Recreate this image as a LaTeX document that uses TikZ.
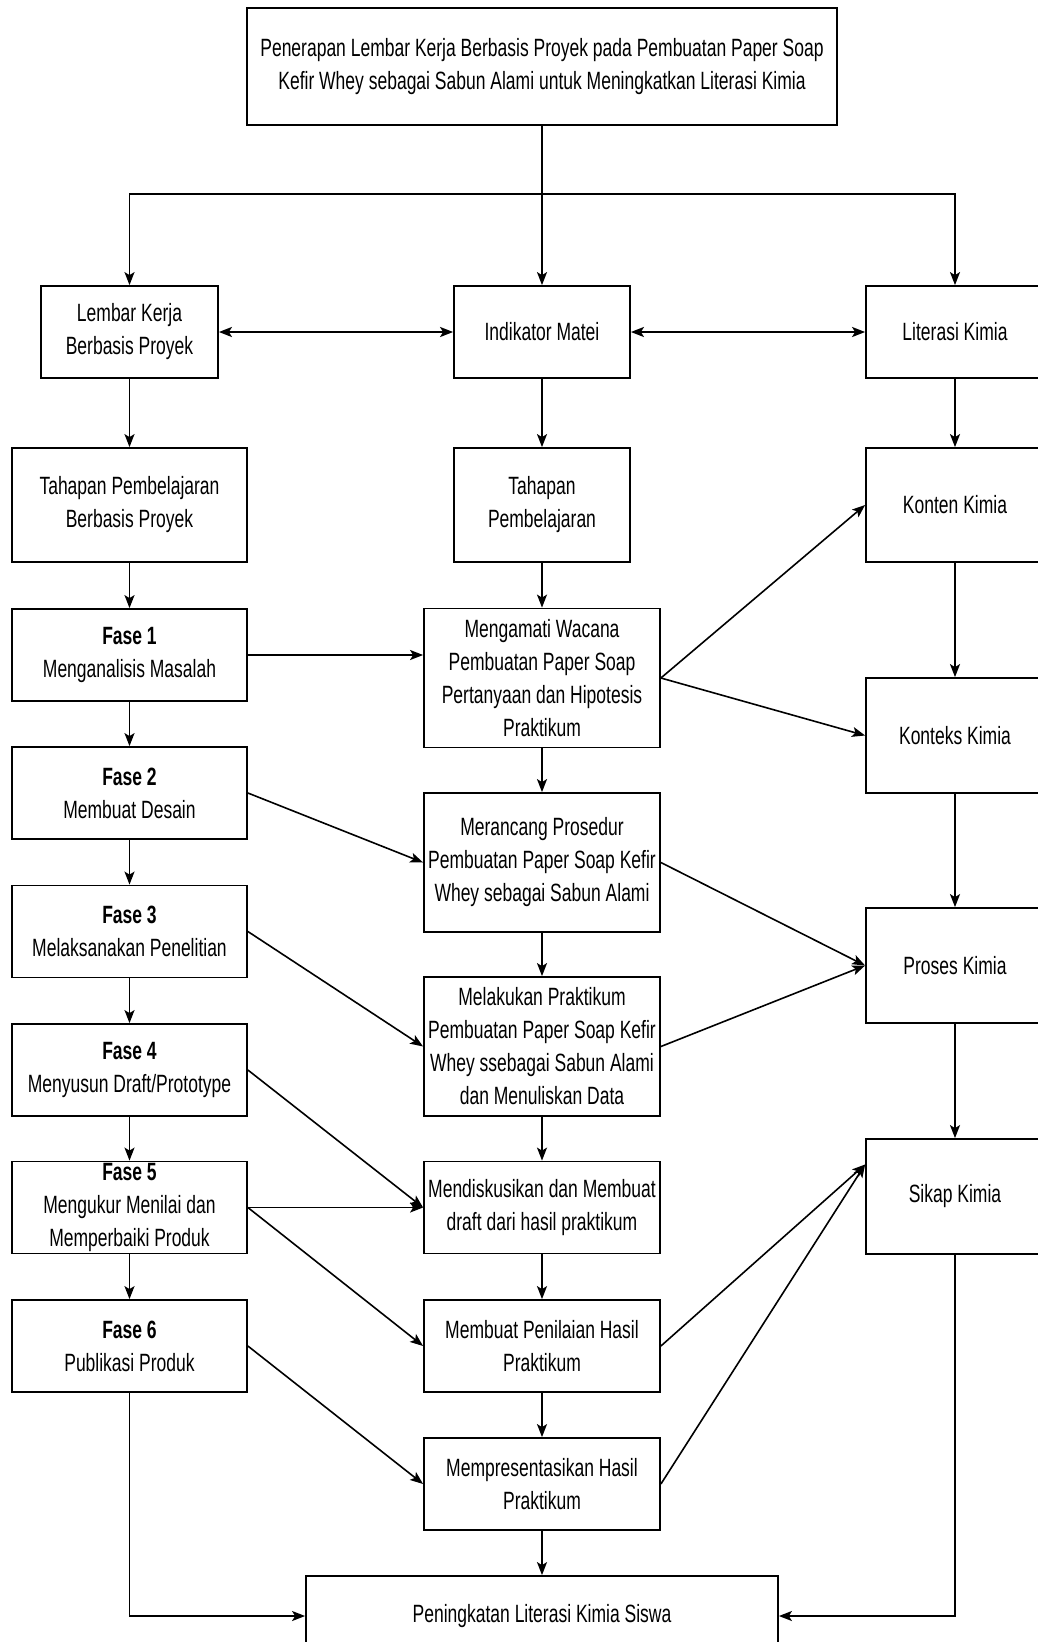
\documentclass[tikz,border=0pt]{standalone}
\usepackage{fontspec}
\setmainfont[FakeStretch=0.7]{Liberation Sans}
\usepackage{tikz}
\usetikzlibrary{positioning,calc,arrows.meta}

\begin{document}
\begin{tikzpicture}[x=1pt, y=-1pt,
  font={\fontsize{25}{33}\selectfont},
  box/.style={draw, line width=1.8pt, align=center, inner sep=0pt,
              minimum width=#1, minimum height=92pt},
  box/.default=235pt,
  tall/.style={minimum height=139pt},
  side/.style={box=178pt, minimum height=115pt},
  arr/.style={-{Stealth[length=13pt, width=10pt, inset=3pt]}, line width=1.6pt},
  dbl/.style={{Stealth[length=13pt, width=10pt, inset=3pt]}-{Stealth[length=13pt, width=10pt, inset=3pt]}, line width=2.2pt}]
\path[use as bounding box] (0,0) rectangle (1038,1642);
\clip (0,0) rectangle (1038,1642);
\node[box=590pt, minimum height=117pt] (title) at (542,66.5) {Penerapan Lembar Kerja Berbasis Proyek pada Pembuatan Paper Soap\\Kefir Whey sebagai Sabun Alami untuk Meningkatkan Literasi Kimia};
\node[box=177pt] (lkbp) at (129.5,332) {Lembar Kerja\\Berbasis Proyek};
\node[box=176pt] (ind) at (542,332) {Indikator Matei};
\node[box=178pt] (lit) at (955,332) {Literasi Kimia};
\node[box, minimum height=114pt] (tbp) at (129.5,505) {Tahapan Pembelajaran\\Berbasis Proyek};
\node[box=176pt, minimum height=114pt] (tp) at (542,505) {Tahapan\\Pembelajaran};
\node[side, minimum height=114pt] (konten) at (955,505) {Konten Kimia};
\node[box] (f1) at (129.5,655) {\textbf{Fase 1}\\Menganalisis Masalah};
\node[box] (f2) at (129.5,793) {\textbf{Fase 2}\\Membuat Desain};
\node[box] (f3) at (129.5,931.5) {\textbf{Fase 3}\\Melaksanakan Penelitian};
\node[box] (f4) at (129.5,1070) {\textbf{Fase 4}\\Menyusun Draft/Prototype};
\node[box] (f5) at (129.5,1207.5) {\textbf{Fase 5}\\Mengukur Menilai dan\\Memperbaiki Produk};
\node[box] (f6) at (129.5,1346) {\textbf{Fase 6}\\Publikasi Produk};
\node[box=236pt, tall] (m1) at (542,678) {Mengamati Wacana\\Pembuatan Paper Soap\\Pertanyaan dan Hipotesis\\Praktikum};
\node[box=236pt, tall] (m2) at (542,862.5) {Merancang Prosedur\\Pembuatan Paper Soap Kefir\\Whey sebagai Sabun Alami};
\node[box=236pt, tall] (m3) at (542,1046.5) {Melakukan Praktikum\\Pembuatan Paper Soap Kefir\\Whey ssebagai Sabun Alami\\dan Menuliskan Data};
\node[box=236pt] (m4) at (542,1207.5) {Mendiskusikan dan Membuat\\draft dari hasil praktikum};
\node[box=236pt] (m5) at (542,1346) {Membuat Penilaian Hasil\\Praktikum};
\node[box=236pt] (m6) at (542,1484) {Mempresentasikan Hasil\\Praktikum};
\node[side] (konteks) at (955,735.5) {Konteks Kimia};
\node[side] (proses) at (955,965.5) {Proses Kimia};
\node[side] (sikap) at (955,1196.5) {Sikap Kimia};
\node[box=472pt, minimum height=80pt] (hasil) at (542,1616) {Peningkatan Literasi Kimia Siswa};
\coordinate (br) at (542,194);
\coordinate (sk) at ([yshift=32pt]sikap.west);
\draw[arr] (title) -- (ind);
\draw[arr] (br) -| (lkbp.north);
\draw[arr] (br) -| (lit.north);
\draw[dbl] (lkbp) -- (ind);
\draw[dbl] (ind) -- (lit);
\foreach \a/\b in {lkbp/tbp, tbp/f1, f1/f2, f2/f3, f3/f4, f4/f5, f5/f6,
                   ind/tp, tp/m1, m1/m2, m2/m3, m3/m4, m4/m5, m5/m6, m6/hasil,
                   lit/konten, konten/konteks, konteks/proses, proses/sikap}
  \draw[arr] (\a) -- (\b);
\draw[arr] (f1.east) -- (f1.east -| m1.west);
\draw[arr] (m1.east) -- (konten.west);
\draw[arr] (m1.east) -- (konteks.west);
\draw[arr] (f2.east) -- (m2.west);
\draw[arr] (m2.east) -- (proses.west);
\draw[arr] (f3.east) -- (m3.west);
\draw[arr] (m3.east) -- (proses.west);
\draw[arr] (f4.east) -- (m4.west);
\draw[arr] (f5.east) -- (m4.west);
\draw[arr] (f5.east) -- (m5.west);
\draw[arr] (f6.east) -- (m6.west);
\draw[arr] (m5.east) -- (sk);
\draw[arr] (m6.east) -- (sk);
\draw[arr] (f6.south) |- (hasil.west);
\draw[arr] (sikap.south) |- (hasil.east);
\end{tikzpicture}
\end{document}
